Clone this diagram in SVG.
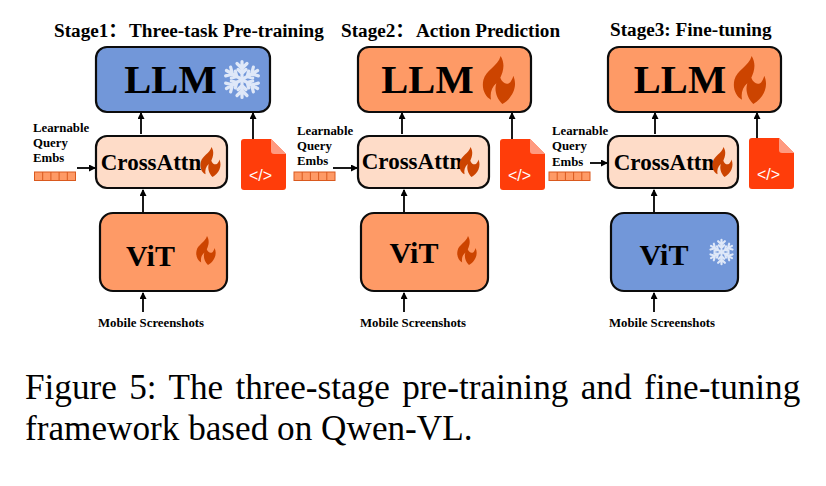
<svg xmlns="http://www.w3.org/2000/svg" width="826" height="486" viewBox="0 0 826 486">
<style>
text{font-family:"Liberation Serif","Noto Sans CJK SC","Times New Roman",serif;fill:#000}
.t{font-size:19.2px;font-weight:bold}
.llm{font-size:40.5px;font-weight:bold;text-anchor:middle}
.ca{font-size:23px;font-weight:bold;text-anchor:middle}
.vit{font-size:30px;font-weight:bold;text-anchor:middle}
.s{font-size:12.8px;font-weight:bold}
.cap{font-size:35.2px}
.box{stroke:#0c0c0c;stroke-width:2.2}
.blue{fill:#7297d9}.or{fill:#fe9a66}.pe{fill:#fedcc8}
.c{stroke:#000;stroke-width:1.8;fill:none;marker-end:url(#a)}
.sf{stroke:#dfe8f8;stroke-width:3.2;stroke-linecap:round;fill:none}
.code{font-family:"Liberation Sans",Arial,sans-serif;font-size:16px;fill:#fff;text-anchor:middle}
</style>
<defs>
<marker id="a" markerUnits="userSpaceOnUse" markerWidth="8" markerHeight="8" refX="6" refY="3.5" orient="auto"><path d="M0 0L7 3.5L0 7Z" fill="#000"/></marker>
<symbol id="flame" viewBox="0 0 100 145" overflow="visible"><path fill="#cc4400" d="M55 0C70 25 62 48 54 66C60 84 78 90 86 76C90 70 92 66 93 60C108 92 90 128 60 145C42 128 35 102 42 82C28 94 22 112 26 132C6 122 -3 96 3 72C10 42 46 32 55 0Z"/></symbol>
<symbol id="snow" viewBox="-20 -20 40 40" overflow="visible"><g class="sf">
<g id="arm"><path d="M0 0V-18M-5 -16L0 -11L5 -16M-4 -10L0 -6L4 -10"/></g>
<use href="#arm" transform="rotate(60)"/><use href="#arm" transform="rotate(120)"/><use href="#arm" transform="rotate(180)"/><use href="#arm" transform="rotate(240)"/><use href="#arm" transform="rotate(300)"/></g></symbol>
<g id="file"><path fill="#ff3d0a" d="M3 0H30L45 15V48Q45 51 42 51H3Q0 51 0 48V3Q0 0 3 0Z"/><path fill="#ff9a80" d="M30 0L45 15H33Q30 15 30 12Z"/><text class="code" x="19.500" y="42">&lt;/&gt;</text></g>
<g id="q"><rect x="0" y="0" width="41" height="8.500" fill="#fe9a66" stroke="#d9591e" stroke-width="1"/><path d="M8.200 0V8.500M16.400 0V8.500M24.600 0V8.500M32.800 0V8.500" stroke="#d9591e" stroke-width="1"/></g>
</defs>

<text class="t" x="54" y="37">Stage1：<tspan x="129">Three-task Pre-training</tspan></text>
<text class="t" x="341" y="37">Stage2：<tspan x="416">Action Prediction</tspan></text>
<text class="t" x="610" y="36">Stage3: Fine-tuning</text>

<g id="connectors">
<path class="c" d="M141 134V113"/><path class="c" d="M253 139V113"/><path class="c" d="M77 168H95"/><path class="c" d="M143 212V190"/><path class="c" d="M143 312V293"/>
<path class="c" d="M402 134V113"/><path class="c" d="M512 139V113"/><path class="c" d="M333 168H357"/><path class="c" d="M404 212V190"/><path class="c" d="M404 312V293"/>
<path class="c" d="M655 134V113"/><path class="c" d="M757 139V113"/><path class="c" d="M590 163H607"/><path class="c" d="M654 212V190"/><path class="c" d="M654 312V293"/>
</g>

<g id="llm1"><rect class="box blue" x="96" y="47" width="174" height="65" rx="11"/><text class="llm" x="170.500" y="93">LLM</text><use href="#snow" x="222" y="59" width="40" height="41"/></g>
<g id="cross1"><rect class="box pe" x="96" y="136" width="131" height="52" rx="11"/><text class="ca" x="151" y="170">CrossAttn</text><use href="#flame" x="200" y="147" width="21" height="30"/></g>
<g id="vit1"><rect class="box or" x="100" y="213" width="127" height="78" rx="13"/><text class="vit" x="150.500" y="266">ViT</text><use href="#flame" x="196" y="236" width="20" height="29"/></g>
<g id="file1"><use href="#file" x="241" y="139"/></g>
<g id="query1"><use href="#q" x="34.500" y="172"/><text class="s" x="33" y="132">Learnable</text><text class="s" x="33" y="147">Query</text><text class="s" x="33" y="162">Embs</text></g>
<text class="s" x="98" y="327" id="ms1">Mobile Screenshots</text>

<g id="llm2"><rect class="box or" x="358" y="47" width="173" height="65" rx="11"/><text class="llm" x="427.500" y="93">LLM</text><use href="#flame" x="482" y="56" width="34" height="48"/></g>
<g id="cross2"><rect class="box pe" x="358" y="136" width="131" height="52" rx="11"/><text class="ca" x="412" y="169">CrossAttn</text><use href="#flame" x="459" y="147" width="21" height="30"/></g>
<g id="vit2"><rect class="box or" x="361" y="213" width="127" height="78" rx="13"/><text class="vit" x="414" y="263">ViT</text><use href="#flame" x="457" y="236" width="20" height="29"/></g>
<g id="file2"><use href="#file" x="500" y="139"/></g>
<g id="query2"><use href="#q" x="294" y="172"/><text class="s" x="297" y="135">Learnable</text><text class="s" x="297" y="150">Query</text><text class="s" x="297" y="165">Embs</text></g>
<text class="s" x="360" y="327" id="ms2">Mobile Screenshots</text>

<g id="llm3"><rect class="box or" x="608" y="47" width="173" height="65" rx="11"/><text class="llm" x="680" y="93">LLM</text><use href="#flame" x="733" y="56" width="34" height="48"/></g>
<g id="cross3"><rect class="box pe" x="608" y="136" width="130" height="52" rx="11"/><text class="ca" x="664" y="170">CrossAttn</text><use href="#flame" x="712" y="147" width="21" height="30"/></g>
<g id="vit3"><rect class="box blue" x="611" y="213" width="127" height="78" rx="13"/><text class="vit" x="664" y="265">ViT</text><use href="#snow" x="708" y="238" width="27" height="28"/></g>
<g id="file3"><use href="#file" x="749" y="138"/></g>
<g id="query3"><use href="#q" x="549" y="172"/><text class="s" x="552" y="135">Learnable</text><text class="s" x="552" y="150">Query</text><text class="s" x="552" y="166">Embs</text></g>
<text class="s" x="609" y="327" id="ms3">Mobile Screenshots</text>

<text class="cap" x="25" y="399" word-spacing="3.600">Figure 5: The three-stage pre-training and fine-tuning</text>
<text class="cap" x="25" y="440">framework based on Qwen-VL.</text>
</svg>
